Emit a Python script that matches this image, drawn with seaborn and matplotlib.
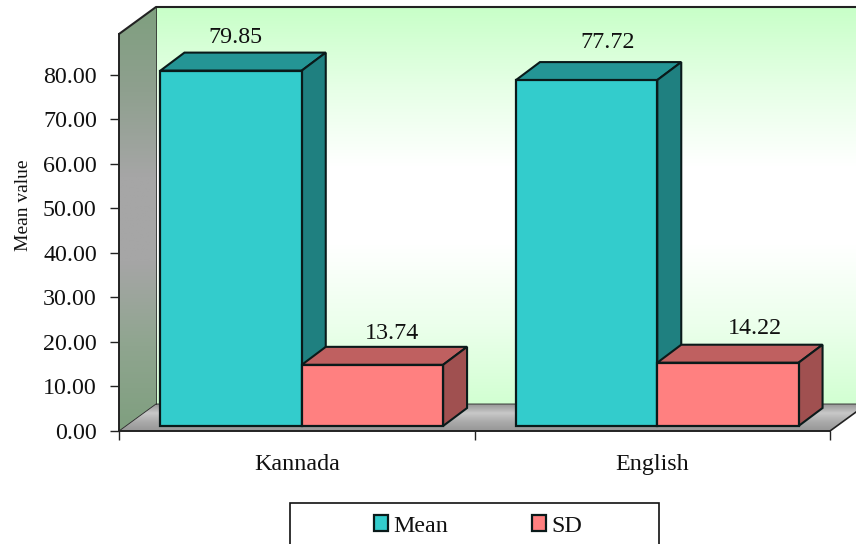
import numpy as np
import pandas as pd
import matplotlib
matplotlib.use("Agg")
import matplotlib.pyplot as plt
import seaborn as sns
from matplotlib.colors import LinearSegmentedColormap
from matplotlib.patches import Polygon, Rectangle, Patch
from matplotlib.transforms import IdentityTransform, Affine2D

languages = ["Kannada", "English"]
mean_values = [79.85, 77.72]
sd_values = [13.74, 14.22]
series_names = ["Mean", "SD"]
y_ticks = [0, 10, 20, 30, 40, 50, 60, 70, 80]

sns.set_theme(style="white")
plt.rcParams["font.family"] = ["Liberation Serif", "DejaVu Serif"]

W, H = 856, 544
FS = 17.3
fig = plt.figure(figsize=(W / 100, H / 100), dpi=100, facecolor="white")
ax = fig.add_axes([119 / W, (H - 431) / H, 711 / W, 397 / H])
ax.patch.set_alpha(0)

df = pd.DataFrame({
    "language": languages * 2,
    "series": ["Mean"] * 2 + ["SD"] * 2,
    "value": mean_values + sd_values,
})
colors = {"Mean": "#33cccc", "SD": "#ff8080"}
sns.barplot(data=df, x="language", y="value", hue="series", palette=colors,
            hue_order=series_names, order=languages, width=0.795, gap=0, saturation=1,
            edgecolor="#0a1a1a", linewidth=1.6, legend=False, ax=ax, zorder=5)
ax.set_xlim(-0.5, 1.5)
ax.set_ylim(0, 89.2)
ax.set_xlabel("")
ax.set_ylabel("Mean value", fontsize=14, color="#111111")
ax.yaxis.set_label_coords(-87 / 711, 226 / 397)
ax.set_yticks(y_ticks)
ax.set_yticklabels([f"{v:.2f}" for v in y_ticks], fontsize=FS, color="#111111")
ax.set_xticks([0, 1])
ax.set_xticklabels(languages, fontsize=FS, color="#111111")
ax.set_xticks([-0.5, 0.5, 1.5], minor=True)
ax.tick_params(axis="y", which="major", left=True, length=6.5, width=1, pad=9.5, color="#222222")
ax.tick_params(axis="x", which="major", bottom=False, pad=10.7)
ax.tick_params(axis="x", which="minor", bottom=True, length=6.5, width=1, color="#222222")
for s in ("top", "right"):
    ax.spines[s].set_visible(False)
for s in ("left", "bottom"):
    ax.spines[s].set_color("#222222")
    ax.spines[s].set_linewidth(1.4)
    ax.spines[s].set_zorder(6)

fig.canvas.draw()
to_px = ax.transData.transform
pid = IdentityTransform()

# wall / floor geometry derived from the axes
WALL_DX, WALL_DY = 37, 27
x0, y0 = to_px((-0.5, 0))
x1, _ = to_px((1.5, 0))
_, ytop = to_px((-0.5, 89.2))


def gradient(stops, poly_xy, z):
    cmap = LinearSegmentedColormap.from_list("g", stops)
    poly = Polygon(poly_xy, closed=True, transform=pid, fc="none", ec="none")
    ax.add_patch(poly)
    poly.set_clip_on(False)
    xs, ys = zip(*poly_xy)
    im = ax.imshow(np.linspace(0, 1, 256)[:, None], cmap=cmap, aspect="auto", origin="upper",
                   extent=(min(xs), max(xs), min(ys), max(ys)), transform=pid, zorder=z)
    im.set_clip_box(fig.bbox)
    im.set_clip_path(poly)


back = [(x0 + WALL_DX, y0 + WALL_DY), (x1 + WALL_DX, y0 + WALL_DY),
        (x1 + WALL_DX, ytop + WALL_DY), (x0 + WALL_DX, ytop + WALL_DY)]
left = [(x0, y0), (x0 + WALL_DX, y0 + WALL_DY), (x0 + WALL_DX, ytop + WALL_DY), (x0, ytop)]
floor = [(x0, y0), (x1, y0), (x1 + WALL_DX, y0 + WALL_DY), (x0 + WALL_DX, y0 + WALL_DY)]
gradient(["#c8ffc8", "#e6ffe6", "#ffffff", "#ffffff", "#ecffec", "#d2ffd2"], back, 0.5)
gradient(["#7f9f7f", "#8fa08f", "#a6a6a6", "#a6a6a6", "#8fa58f", "#7f9f7f"], left, 0.6)
gradient(["#969696", "#c8c8c8", "#aaaaaa", "#969696"], floor, 0.7)

line = dict(transform=pid, color="#222222", clip_on=False)
ax.plot([x0, x0 + WALL_DX, x1 + WALL_DX], [ytop, ytop + WALL_DY, ytop + WALL_DY], lw=1.5, zorder=1, **line)
ax.plot([x0 + WALL_DX] * 2, [y0 + WALL_DY, ytop + WALL_DY], lw=0.6, zorder=1, **line)
ax.plot([x0, x0 + WALL_DX, x1 + WALL_DX], [y0, y0 + WALL_DY, y0 + WALL_DY], lw=0.6, zorder=1, **line)
ax.plot([x1, x1 + WALL_DX], [y0, y0 + WALL_DY], lw=1.2, zorder=1, **line)
ax.set_xlim(-0.5, 1.5)
ax.set_ylim(0, 89.2)

# bars: pushed into the depth of the chart, then given their 3-D faces
BAR_SHIFT = (5, 5)
BAR_DX, BAR_DY = 24, 18
shades = {"Mean": ("#249595", "#1f8080"), "SD": ("#bf6060", "#a05050")}
label_offsets = {("Mean", 0): (4, 33), ("Mean", 1): (21, 38), ("SD", 0): (20, 31), ("SD", 1): (27, 34)}
edge = "#0a1a1a"
for s_i, (name, container) in enumerate(zip(series_names, ax.containers)):
    for c_i, bar in enumerate(container):
        bar.set_transform(ax.transData + Affine2D().translate(*BAR_SHIFT))
        z = 5 + c_i + s_i * 0.2
        bar.set_zorder(z + 0.1)
        bar.set_clip_on(False)
        (l, b) = to_px((bar.get_x(), 0))
        (r, t) = to_px((bar.get_x() + bar.get_width(), bar.get_height()))
        l, r = l + BAR_SHIFT[0], r + BAR_SHIFT[0]
        b, t = b + BAR_SHIFT[1], t + BAR_SHIFT[1]
        top_c, side_c = shades[name]
        ax.add_patch(Polygon([(l, t), (r, t), (r + BAR_DX, t + BAR_DY), (l + BAR_DX, t + BAR_DY)],
                             transform=pid, fc=top_c, ec=edge, lw=1.5, zorder=z, clip_on=False))
        ax.add_patch(Polygon([(r, b), (r + BAR_DX, b + BAR_DY), (r + BAR_DX, t + BAR_DY), (r, t)],
                             transform=pid, fc=side_c, ec=edge, lw=1.5, zorder=z, clip_on=False))
        dx, dy = label_offsets[(name, c_i)]
        ax.text((l + r) / 2 + dx, t + dy, f"{bar.get_height():.2f}", transform=pid,
                ha="center", va="center", fontsize=FS, color="#111111", zorder=9, clip_on=False)

# legend box runs off the lower edge of the picture
fig.add_artist(Rectangle((290 / W, -0.01), 369 / W, (H - 503) / H + 0.01, transform=fig.transFigure,
                         fc="white", ec="#111111", lw=1.2))
handles = [Patch(fc=colors[n], ec="#0a1a1a", lw=1.6, label=n) for n in series_names]
fig.legend(handles=handles, loc="center", bbox_to_anchor=(478 / W, (H - 526) / H), ncol=2, frameon=False,
           fontsize=FS, handlelength=0.6, handleheight=0.6, handletextpad=0.2, columnspacing=3.5,
           labelcolor="#111111", borderpad=0)

fig.savefig("out.png", dpi=100)
